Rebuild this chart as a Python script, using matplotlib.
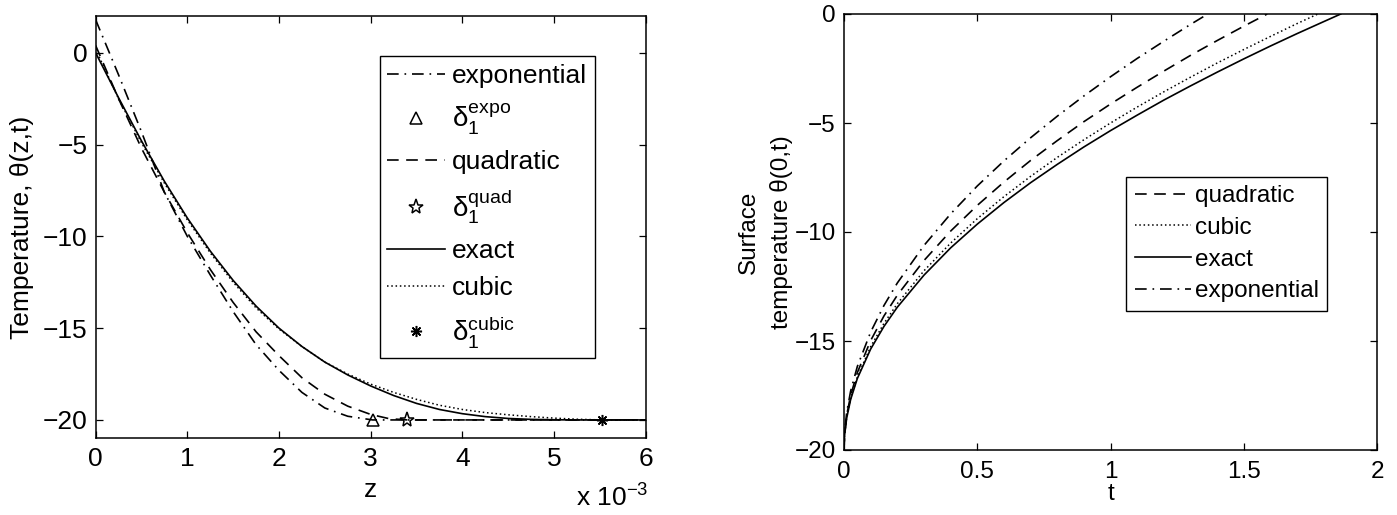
import matplotlib
matplotlib.use("Agg")
import matplotlib.pyplot as plt

plt.rcParams['font.family'] = ['Liberation Sans', 'DejaVu Sans']
plt.rcParams['mathtext.fontset'] = 'custom'
plt.rcParams['mathtext.rm'] = 'Liberation Sans'
plt.rcParams['mathtext.it'] = 'Liberation Sans'
plt.rcParams['mathtext.default'] = 'regular'

# ---------------- left panel data (z in units of 1e-3) ----------------
z_expo = [0, 0.25, 0.5, 0.75, 1.0, 1.25, 1.5, 1.75, 2.0, 2.25, 2.5, 2.75, 3.02, 6.0]
th_expo = [1.8, -1.2, -4.3, -7.6, -10.0, -12.1, -14.1, -15.9, -17.3, -18.5, -19.35, -19.8, -20.0, -20.0]

z_quad = [0, 0.25, 0.5, 0.75, 1.0, 1.25, 1.5, 1.75, 2.0, 2.25, 2.5, 2.75, 3.0, 3.2, 3.4, 6.0]
th_quad = [0.4, -2.5, -5.2, -7.6, -9.8, -11.8, -13.6, -15.2, -16.5, -17.7, -18.6, -19.25, -19.7, -19.93, -20.0, -20.0]

z_exact = [0, 0.25, 0.5, 0.75, 1.0, 1.25, 1.5, 1.75, 2.0, 2.25, 2.5, 2.75, 3.0, 3.25,
           3.5, 3.75, 4.0, 4.25, 4.5, 4.75, 5.0, 5.25, 6.0]
th_exact = [0.0, -2.45, -4.8, -7.0, -9.0, -10.8, -12.4, -13.8, -15.0, -16.0, -16.85, -17.55, -18.15, -18.67,
            -19.1, -19.43, -19.66, -19.82, -19.92, -19.97, -19.99, -20.0, -20.0]

z_cubic = [0, 0.25, 0.5, 0.75, 1.0, 1.25, 1.5, 1.75, 2.0, 2.25, 2.5, 2.75, 3.0, 3.25,
           3.5, 3.75, 4.0, 4.25, 4.5, 4.75, 5.0, 5.25, 5.52, 6.0]
th_cubic = [0.2, -2.5, -4.9, -7.1, -9.1, -10.9, -12.5, -13.9, -15.05, -16.0, -16.85, -17.5, -18.05, -18.5,
            -18.88, -19.2, -19.43, -19.6, -19.72, -19.82, -19.9, -19.96, -20.0, -20.0]

delta_expo = 3.02
delta_quad = 3.40
delta_cubic = 5.52
theta_inf = -20.0

# ---------------- right panel data ----------------
t_exact = [0, 0.002, 0.01, 0.025, 0.05, 0.1, 0.15, 0.2, 0.3, 0.4, 0.5, 0.6, 0.7, 0.8, 0.9,
           1.0, 1.1, 1.2, 1.3, 1.4, 1.5, 1.6, 1.7, 1.8, 1.864]
s_exact = [-20, -19.35, -18.54, -17.68, -16.72, -15.37, -14.33, -13.45, -11.98, -10.73, -9.64, -8.65,
           -7.74, -6.90, -6.10, -5.35, -4.64, -3.95, -3.30, -2.67, -2.06, -1.47, -0.90, -0.35, 0.0]

t_cubic = [0, 0.002, 0.01, 0.025, 0.05, 0.1, 0.15, 0.2, 0.3, 0.4, 0.5, 0.6, 0.7, 0.8, 0.9,
           1.0, 1.1, 1.2, 1.3, 1.4, 1.5, 1.6, 1.7, 1.778]
s_cubic = [-20, -19.33, -18.5, -17.63, -16.65, -15.26, -14.19, -13.29, -11.78, -10.51, -9.39, -8.38,
           -7.45, -6.58, -5.77, -5.0, -4.27, -3.57, -2.90, -2.25, -1.63, -1.03, -0.44, 0.0]

t_quad = [0, 0.002, 0.01, 0.025, 0.05, 0.1, 0.15, 0.2, 0.3, 0.4, 0.5, 0.6, 0.7, 0.8, 0.9,
          1.0, 1.1, 1.2, 1.3, 1.4, 1.5, 1.588]
s_quad = [-20, -19.29, -18.41, -17.49, -16.45, -14.98, -13.85, -12.90, -11.31, -9.96, -8.78, -7.71,
          -6.72, -5.81, -4.94, -4.13, -3.36, -2.62, -1.90, -1.22, -0.56, 0.0]

t_expo = [0, 0.002, 0.01, 0.025, 0.05, 0.1, 0.15, 0.2, 0.3, 0.4, 0.5, 0.6, 0.7, 0.8, 0.9,
          1.0, 1.1, 1.2, 1.3, 1.365]
s_expo = [-20, -19.23, -18.29, -17.29, -16.17, -14.59, -13.37, -12.34, -10.62, -9.17, -7.89, -6.74,
          -5.68, -4.69, -3.76, -2.88, -2.04, -1.25, -0.48, 0.0]

W, H = 1397, 515
fig = plt.figure(figsize=(W / 100, H / 100), dpi=100)

LW = 1.2
DASH = (0, (7, 4.5))
DASHDOT = (0, (7, 3.5, 1, 3.5))
DOT = (0, (1, 1.8))


def style_axes(ax, fs):
    ax.tick_params(direction='in', top=True, right=True, length=5, width=0.9,
                   labelsize=fs, pad=6)
    for s in ax.spines.values():
        s.set_linewidth(1.1)


# ---------------- left panel ----------------
ax1 = fig.add_axes([95.6 / W, 1 - 438.3 / H, 550.2 / W, 422.3 / H])
fs1 = 19
ax1.plot(z_expo, th_expo, color='k', lw=LW, linestyle=DASHDOT, label='exponential')
ax1.plot([delta_expo], [theta_inf], linestyle='none', marker='^', ms=9, mfc='none', mec='k',
         mew=1.1, label=r'$\delta_1^{expo}$')
ax1.plot(z_quad, th_quad, color='k', lw=LW, linestyle=DASH, label='quadratic')
ax1.plot([delta_quad], [theta_inf], linestyle='none', marker='*', ms=11, mfc='none', mec='k',
         mew=1.1, label=r'$\delta_1^{quad}$')
ax1.plot(z_exact, th_exact, color='k', lw=LW, linestyle='-', label='exact')
ax1.plot(z_cubic, th_cubic, color='k', lw=1.1, linestyle=DOT, label='cubic')
ax1.plot([delta_cubic], [theta_inf], linestyle='none', marker=(8, 2, 0), ms=8, mfc='none', mec='k',
         mew=1.1, label=r'$\delta_1^{cubic}$')
ax1.set_xlim(0, 6)
ax1.set_ylim(-21, 2)
ax1.set_xticks([0, 1, 2, 3, 4, 5, 6])
ax1.set_yticks([0, -5, -10, -15, -20])
style_axes(ax1, fs1)
ax1.set_xlabel('z', fontsize=fs1, labelpad=5)
ax1.set_ylabel('Temperature, θ(z,t)', fontsize=fs1, labelpad=6)
ax1.text(1.005, -0.108, r'x 10$^{-3}$', transform=ax1.transAxes, ha='right', va='top', fontsize=fs1)
leg1 = ax1.legend(loc='upper left', bbox_to_anchor=(0.516, 0.905), borderaxespad=0,
                  fontsize=fs1, frameon=True, fancybox=False, framealpha=1, edgecolor='k',
                  handlelength=2.2, handletextpad=0.25, labelspacing=0.5, borderpad=0.3,
                  numpoints=1)
leg1.get_frame().set_linewidth(1.0)
for txt in leg1.get_texts():
    if txt.get_text().startswith('$'):
        txt.set_fontsize(20)

# ---------------- right panel ----------------
ax2 = fig.add_axes([844 / W, 1 - 450 / H, 533 / W, 436 / H])
fs2 = 17.5
ax2.plot(t_quad, s_quad, color='k', lw=LW, linestyle=DASH, label='quadratic')
ax2.plot(t_cubic, s_cubic, color='k', lw=1.1, linestyle=DOT, label='cubic')
ax2.plot(t_exact, s_exact, color='k', lw=LW, linestyle='-', label='exact')
ax2.plot(t_expo, s_expo, color='k', lw=LW, linestyle=DASHDOT, label='exponential')
ax2.set_xlim(0, 2)
ax2.set_ylim(-20, 0)
ax2.set_xticks([0, 0.5, 1, 1.5, 2])
ax2.set_xticklabels(['0', '0.5', '1', '1.5', '2'])
ax2.set_yticks([0, -5, -10, -15, -20])
style_axes(ax2, fs2)
ax2.tick_params(axis='x', pad=8)
ax2.set_xlabel('t', fontsize=fs2, labelpad=0)
ax2.set_ylabel('Surface\ntemperature θ(0,t)', fontsize=fs2, labelpad=1, linespacing=1.55)
leg2 = ax2.legend(loc='upper left', bbox_to_anchor=(0.530, 0.627), borderaxespad=0,
                  fontsize=fs2, frameon=True, fancybox=False, framealpha=1, edgecolor='k',
                  handlelength=2.3, handletextpad=0.15, labelspacing=0.4, borderpad=0.35)
leg2.get_frame().set_linewidth(1.0)

fig.savefig('out.png', dpi=100)
